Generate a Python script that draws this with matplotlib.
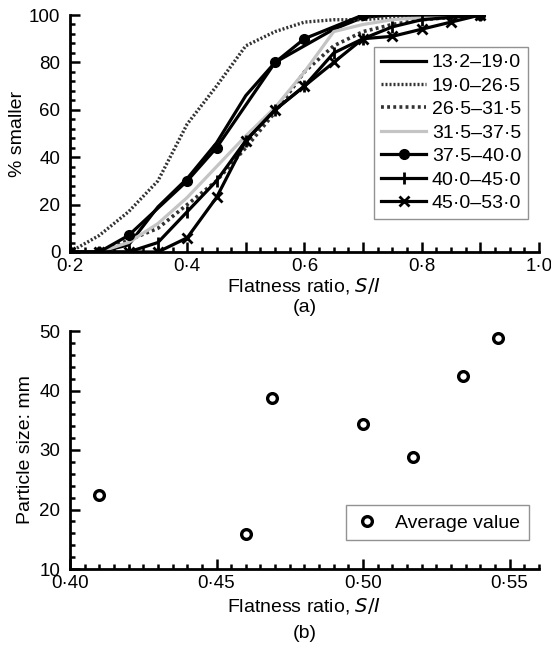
import matplotlib
matplotlib.use("Agg")
import matplotlib.pyplot as plt
from matplotlib.ticker import MultipleLocator, FuncFormatter

plt.rcParams['font.family'] = ['Liberation Sans', 'DejaVu Sans']

# (a) cumulative flatness ratio per size class
ratio = [0.20, 0.25, 0.30, 0.35, 0.40, 0.45, 0.50, 0.55, 0.60, 0.65, 0.70, 0.75, 0.80, 0.85, 0.90]
s13 = [0, 0, 3, 19, 31, 46, 66, 80, 87, 94, 99, 100, 100, 100, 100]
s19 = [0, 7, 17, 30, 54, 70, 87, 93, 97, 98, 98, 99, 99, 100, 100]
s26 = [0, 0, 5, 10, 20, 30, 44, 59, 76, 87, 93, 96, 98, 99, 100]
s31 = [0, 0, 4, 12, 23, 36, 49, 61, 76, 93, 96, 98, 99, 100, 100]
ratio37 = [0.20, 0.25, 0.30, 0.40, 0.45, 0.55, 0.60, 0.70, 0.90]
s37 = [0, 0, 7, 30, 44, 80, 90, 100, 100]
s40 = [0, 0, 0, 4, 17, 30, 47, 60, 70, 84, 90, 95, 98, 99, 100]
s45 = [0, 0, 0, 0, 6, 23, 47, 60, 70, 80, 90, 91, 94, 97, 100]
labels = ["13·2–19·0", "19·0–26·5", "26·5–31·5", "31·5–37·5", "37·5–40·0", "40·0–45·0", "45·0–53·0"]

# (b) average values
avg_ratio = [0.410, 0.460, 0.469, 0.500, 0.517, 0.534, 0.546]
avg_size = [22.4, 15.9, 38.7, 34.4, 28.9, 42.5, 48.9]

FS = 14


def dot_fmt(fmt):
    # decimal point written as a middle dot
    return FuncFormatter(lambda v, p: (fmt % v).replace(".", "·"))


def style_axes(ax):
    ax.spines['top'].set_visible(False)
    ax.spines['right'].set_visible(False)
    ax.spines['left'].set_linewidth(2)
    ax.spines['bottom'].set_linewidth(2)
    ax.tick_params(which='both', direction='in', width=1.8, labelsize=13.5, colors='black')
    ax.tick_params(which='major', length=7)
    ax.tick_params(which='minor', length=3.5)
    ax.tick_params(axis='x', which='major', pad=4)
    ax.tick_params(axis='y', which='major', pad=7)


fig = plt.figure(figsize=(5.51, 6.47), dpi=100)

# panel a
ax1 = fig.add_axes([0.127, 1 - 252 / 647, 0.851, 237 / 647])
ax1.plot(ratio, s13, color='black', lw=2.3, label=labels[0])
ax1.plot(ratio, s19, color='#333333', lw=2.4, ls=(0, (0.6, 0.6)), label=labels[1])
ax1.plot(ratio, s26, color='#333333', lw=2.6, ls=(0, (0.8, 0.9)), label=labels[2])
ax1.plot(ratio, s31, color='#c4c4c4', lw=2.3, label=labels[3])
ax1.plot(ratio37, s37, color='black', lw=2.3, marker='o', ms=7, label=labels[4])
ax1.plot(ratio, s40, color='black', lw=2.3, marker='|', ms=9, mew=2, label=labels[5])
ax1.plot(ratio, s45, color='black', lw=2.3, marker='x', ms=6.5, mew=2, label=labels[6])

ax1.set_xlim(0.2, 1.0)
ax1.set_ylim(0, 100)
ax1.xaxis.set_major_locator(MultipleLocator(0.1))
ax1.xaxis.set_minor_locator(MultipleLocator(0.025))
ax1.xaxis.set_major_formatter(FuncFormatter(
    lambda v, p: ("%.1f" % v).replace(".", "·") if round(v * 10) % 2 == 0 else ""))
ax1.yaxis.set_major_locator(MultipleLocator(20))
ax1.yaxis.set_minor_locator(MultipleLocator(4))
style_axes(ax1)
ax1.set_xlabel("Flatness ratio, $\\it{S/I}$", fontsize=FS, labelpad=1)
ax1.set_ylabel("% smaller", fontsize=FS, labelpad=2)
leg1 = ax1.legend(loc='upper right', bbox_to_anchor=(0.977, 0.865), borderaxespad=0,
                  fontsize=FS, frameon=True, fancybox=False, handlelength=2.3,
                  labelspacing=0.3, handletextpad=0.3, borderpad=0.35)
leg1.get_frame().set_edgecolor('#777777')
leg1.get_frame().set_linewidth(1)
fig.text(0.553, 1 - 307 / 647, "(a)", ha='center', va='center', fontsize=FS)

# panel b
ax2 = fig.add_axes([0.127, 1 - 569 / 647, 0.851, 238 / 647])
ax2.plot(avg_ratio, avg_size, ls='none', marker='o', ms=7, mfc='white', mec='black',
         mew=2.4, label="Average value")
ax2.set_xlim(0.40, 0.56)
ax2.set_ylim(10, 50)
ax2.xaxis.set_major_locator(MultipleLocator(0.05))
ax2.xaxis.set_minor_locator(MultipleLocator(0.005))
ax2.xaxis.set_major_formatter(dot_fmt("%.2f"))
ax2.yaxis.set_major_locator(MultipleLocator(10))
ax2.yaxis.set_minor_locator(MultipleLocator(2))
style_axes(ax2)
ax2.set_xlabel("Flatness ratio, $\\it{S/I}$", fontsize=FS, labelpad=3)
ax2.set_ylabel("Particle size: mm", fontsize=FS, labelpad=4)
leg2 = ax2.legend(loc='lower right', bbox_to_anchor=(0.979, 0.12), borderaxespad=0,
                  fontsize=FS, frameon=True, fancybox=False, handlelength=1.3,
                  handletextpad=0.8, borderpad=0.45)
leg2.get_frame().set_edgecolor('#777777')
leg2.get_frame().set_linewidth(1)
fig.text(0.553, 1 - 633 / 647, "(b)", ha='center', va='center', fontsize=FS)

fig.savefig("out.png", dpi=100)
